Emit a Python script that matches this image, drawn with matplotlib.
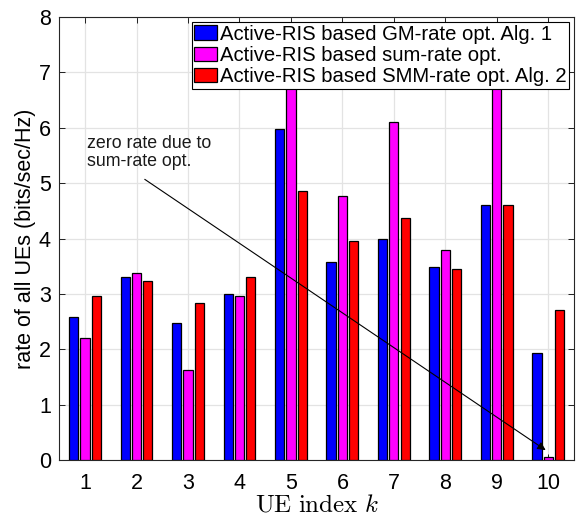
import numpy as np
import matplotlib
matplotlib.use("Agg")
import matplotlib.pyplot as plt

ue = [1, 2, 3, 4, 5, 6, 7, 8, 9, 10]
gm_rate = [2.59, 3.30, 2.48, 3.00, 5.97, 3.57, 3.99, 3.49, 4.61, 1.93]
sum_rate = [2.20, 3.38, 1.62, 2.97, 7.20, 4.77, 6.11, 3.79, 7.00, 0.05]
smm_rate = [2.96, 3.24, 2.84, 3.30, 4.86, 3.95, 4.38, 3.45, 4.61, 2.71]
labels = ["Active-RIS based GM-rate opt. Alg. 1",
          "Active-RIS based sum-rate opt.",
          "Active-RIS based SMM-rate opt. Alg. 2"]
colors = ["#0000ff", "#ff00ff", "#ff0000"]

plt.rcParams['font.family'] = ['Liberation Sans', 'DejaVu Sans']
plt.rcParams['mathtext.fontset'] = 'cm'

fig = plt.figure(figsize=(5.76, 5.17), dpi=100)
ax = fig.add_axes([0.103, 0.110, 0.8935, 0.857])

x = np.array(ue, dtype=float)
w = 0.18
off = 0.22
for i, (vals, lab, c) in enumerate(zip([gm_rate, sum_rate, smm_rate], labels, colors)):
    ax.bar(x + (i - 1) * off, vals, width=w, color=c, edgecolor='black',
           linewidth=0.9, label=lab, zorder=3)

ax.set_xlim(0.5, 10.5)
ax.set_ylim(0, 8)
ax.set_xticks(ue)
ax.set_yticks(range(0, 9))
ax.tick_params(direction='in', top=True, right=True, labelsize=15.5, length=4, width=0.6)
ax.tick_params(axis='x', pad=9)
ax.tick_params(axis='y', pad=6)
ax.grid(True, color='#e3e3e3', linewidth=0.9, zorder=0)
ax.set_axisbelow(True)
for s in ax.spines.values():
    s.set_linewidth(0.8)
    s.set_color('#262626')

ax.set_ylabel("rate of all UEs (bits/sec/Hz)", fontsize=15.5, labelpad=2)
ax.set_xlabel(r"$\mathrm{UE\ index}\ k$", fontsize=18, labelpad=-1)

leg = ax.legend(loc='upper right', fontsize=14.6, frameon=True, fancybox=False,
                framealpha=1.0, edgecolor='black', borderpad=0.12, labelspacing=0.12,
                handlelength=1.15, handleheight=0.7, handletextpad=0.12,
                borderaxespad=0.25)
leg.get_frame().set_linewidth(0.8)
leg.set_zorder(10)

ax.annotate("", xy=(9.95, 0.18), xytext=(2.16, 5.07),
            arrowprops=dict(arrowstyle='-|>', color='black', lw=0.8,
                            mutation_scale=12, shrinkA=0, shrinkB=0), zorder=5)
ax.text(1.04, 5.87, "zero rate due to\nsum-rate opt.", fontsize=12.8,
        va='top', ha='left', color='#1a1a1a', linespacing=1.1, zorder=5)

fig.savefig("out.png", dpi=100)
